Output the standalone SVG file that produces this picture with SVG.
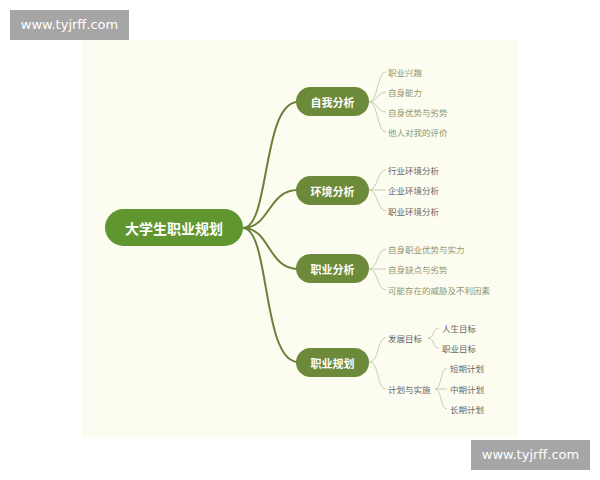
<svg xmlns="http://www.w3.org/2000/svg" width="600" height="480" viewBox="0 0 600 480">
<style>
.wm{fill:#a6a6a6}
.wmt{font-family:"DejaVu Sans",sans-serif;font-size:13px;fill:#ffffff;text-anchor:middle}
.root{fill:#5f9630}
.br{fill:#6c8a3a}
.rt{font-family:"Noto Sans CJK SC",sans-serif;font-size:14px;font-weight:bold;fill:#ffffff;text-anchor:middle;dominant-baseline:central}
.bt{font-family:"Noto Sans CJK SC",sans-serif;font-size:11px;font-weight:bold;fill:#ffffff;text-anchor:middle;dominant-baseline:central}
.lg{font-family:"Noto Sans CJK SC",sans-serif;font-size:8.5px;fill:#8e9870;dominant-baseline:central}
.ld{font-family:"Noto Sans CJK SC",sans-serif;font-size:8.5px;fill:#666666;dominant-baseline:central}
.main{fill:none;stroke:#6b7f3a;stroke-width:2}
.thin{fill:none;stroke:#c9cdb8;stroke-width:1}
</style>
<rect x="82" y="40" width="436" height="398" fill="#fcfcf0"/>
<g id="watermark-top"><rect class="wm" x="10" y="10" width="119" height="30"/><text class="wmt" x="69.5" y="29">www.tyjrff.com</text></g>
<g id="watermark-bottom"><rect class="wm" x="471" y="440" width="119" height="30"/><text class="wmt" x="530.5" y="459">www.tyjrff.com</text></g>
<g id="connectors">
<path class="main" d="M243,228 C270,228 262,102 298,102"/>
<path class="main" d="M243,228 C270,228 268,190 298,190"/>
<path class="main" d="M243,228 C270,228 268,269 298,269"/>
<path class="main" d="M243,228 C270,228 262,362 298,362"/>
<path class="thin" d="M369,102 C378,102 377,72 386,72"/>
<path class="thin" d="M369,102 C378,102 377,92 386,92"/>
<path class="thin" d="M369,102 C378,102 377,112 386,112"/>
<path class="thin" d="M369,102 C378,102 377,132 386,132"/>
<path class="thin" d="M369,190 C378,190 377,170 386,170"/>
<path class="thin" d="M369,190 L386,190"/>
<path class="thin" d="M369,190 C378,190 377,211 386,211"/>
<path class="thin" d="M369,269 C378,269 377,249 386,249"/>
<path class="thin" d="M369,269 L386,269"/>
<path class="thin" d="M369,269 C378,269 377,290 386,290"/>
<path class="thin" d="M369,362 C380,362 376,338 386,338"/>
<path class="thin" d="M369,362 C380,362 376,389 386,389"/>
<path class="thin" d="M428,338 C435,338 432,328 439,328"/>
<path class="thin" d="M428,338 C435,338 432,348 439,348"/>
<path class="thin" d="M435,389 C442,389 440,368 447,368"/>
<path class="thin" d="M435,389 L447,389"/>
<path class="thin" d="M435,389 C442,389 440,409 447,409"/>
</g>
<g id="root"><rect class="root" x="105" y="209" width="138" height="37" rx="18.5"/><text class="rt" x="174" y="228">大学生职业规划</text></g>
<g id="n1"><rect class="br" x="296" y="87" width="73" height="29" rx="14.5"/><text class="bt" x="332.5" y="102">自我分析</text></g>
<g id="n2"><rect class="br" x="296" y="176" width="73" height="29" rx="14.5"/><text class="bt" x="332.5" y="190.5">环境分析</text></g>
<g id="n3"><rect class="br" x="296" y="254" width="73" height="29" rx="14.5"/><text class="bt" x="332.5" y="268.5">职业分析</text></g>
<g id="n4"><rect class="br" x="296" y="348" width="73" height="29" rx="14.5"/><text class="bt" x="332.5" y="362.5">职业规划</text></g>
<g id="leaves1">
<text class="lg" x="388" y="72">职业兴趣</text>
<text class="lg" x="388" y="92">自身能力</text>
<text class="lg" x="388" y="112">自身优势与劣势</text>
<text class="lg" x="388" y="132">他人对我的评价</text>
</g>
<g id="leaves2">
<text class="ld" x="388" y="170">行业环境分析</text>
<text class="ld" x="388" y="190">企业环境分析</text>
<text class="ld" x="388" y="211">职业环境分析</text>
</g>
<g id="leaves3">
<text class="lg" x="388" y="249">自身职业优势与实力</text>
<text class="lg" x="388" y="269">自身缺点与劣势</text>
<text class="lg" x="388" y="290">可能存在的威胁及不利因素</text>
</g>
<g id="leaves4">
<text class="ld" x="388" y="338">发展目标</text>
<text class="ld" x="388" y="389">计划与实施</text>
<text class="ld" x="442" y="328">人生目标</text>
<text class="ld" x="442" y="348">职业目标</text>
<text class="ld" x="450" y="368">短期计划</text>
<text class="ld" x="450" y="389">中期计划</text>
<text class="ld" x="450" y="409">长期计划</text>
</g>
</svg>
